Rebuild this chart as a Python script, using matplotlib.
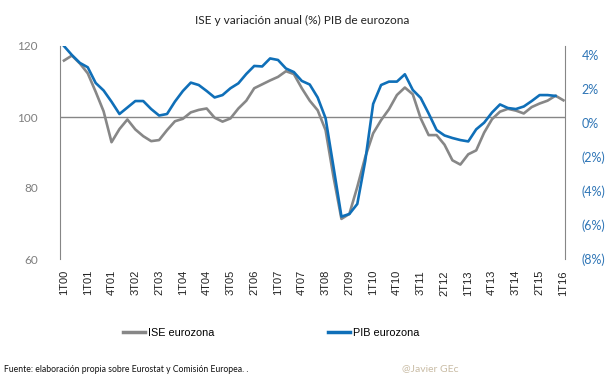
import numpy as np
import matplotlib.pyplot as plt
from matplotlib.lines import Line2D
from matplotlib.ticker import FuncFormatter

# ISE eurozona (left axis, index) - 64 quarters
ise = [115.9, 117.3, 115.1, 112.3, 107.1, 101.6, 92.9, 96.6, 99.3, 96.5,
       94.6, 93.2, 93.5, 96.3, 98.8, 99.5, 101.3, 102.0, 102.4, 99.8,
       98.7, 99.6, 102.4, 104.6, 108.1, 109.2, 110.3, 111.3, 112.9, 112.1,
       108.1, 104.6, 101.9, 96.3, 83.1, 71.3, 72.7, 80.3, 88.7, 95.4,
       99.1, 102.2, 106.2, 108.3, 106.4, 99.6, 94.9, 94.9, 92.2, 87.8,
       86.6, 89.5, 90.6, 95.6, 99.4, 101.5, 102.3, 101.8, 101.0, 102.8,
       103.8, 104.6, 106.0, 104.7]

# PIB eurozona, variacion anual % (right axis) - one quarter less
pib = [4.5, 3.97, 3.51, 3.25, 2.33, 1.89, 1.23, 0.51, 0.89, 1.27,
       1.27, 0.80, 0.42, 0.51, 1.24, 1.86, 2.35, 2.21, 1.86, 1.48,
       1.62, 2.02, 2.31, 2.86, 3.33, 3.30, 3.77, 3.68, 3.18, 2.97,
       2.45, 2.24, 1.48, 0.26, -2.60, -5.51, -5.36, -4.77, -2.25, 1.10,
       2.21, 2.41, 2.41, 2.84, 1.92, 1.45, 0.54, -0.43, -0.75, -0.90,
       -1.02, -1.10, -0.39, 0.00, 0.60, 1.07, 0.86, 0.80, 0.95, 1.27,
       1.62, 1.62, 1.57]

xlabels = ['1T00', '1T01', '4T01', '3T02', '2T03', '1T04', '4T04', '3T05',
           '2T06', '1T07', '4T07', '3T08', '2T09', '1T10', '4T10', '3T11',
           '2T12', '1T13', '4T13', '3T14', '2T15', '1T16']

gray = '#878787'
blue = '#0F6FB8'

fig = plt.figure(figsize=(6.05, 3.81), dpi=100)
ax = fig.add_axes([60/605, 1-259/381, 505/605, 213/381])
ax2 = ax.twinx()

x1 = np.arange(len(ise))
x2 = np.arange(len(pib))
ax.plot(x1, ise, color=gray, lw=1.9, solid_joinstyle='round', zorder=3)
ax2.plot(x2, pib, color=blue, lw=1.9, solid_joinstyle='round', zorder=4)

ax.set_xlim(-0.5, 63.2)
ax.set_ylim(60, 120)
ax.set_yticks([60, 80, 100, 120])
ax2.set_ylim(-8, 4.5)
ax2.set_yticks([-8, -6, -4, -2, 0, 2, 4])

def pct(v, pos):
    v = int(round(v))
    if v < 0:
        return '(%d%%)' % -v
    return '%d%%' % v

ax2.yaxis.set_major_formatter(FuncFormatter(pct))

ax.axhline(100, color='#868686', lw=1.0, zorder=2)

ax.set_xticks(np.arange(0, 64, 3))
ax.set_xticklabels(xlabels, rotation=90, family='Liberation Sans', fontsize=8,
                   color='#222222')

for a in (ax, ax2):
    for s in ('top', 'bottom'):
        a.spines[s].set_visible(False)
    a.spines['left'].set_color('#868686')
    a.spines['right'].set_color('#868686')
ax.spines['right'].set_visible(False)
ax2.spines['left'].set_visible(False)

ax.tick_params(axis='x', length=0, pad=8)
ax.tick_params(axis='y', length=0, pad=16, labelcolor='#7F7F7F', labelsize=8.5)
ax2.tick_params(axis='y', length=0, pad=12, labelcolor='#2E75B6', labelsize=9)
for lab in ax.get_yticklabels() + ax2.get_yticklabels():
    lab.set_family('Lato')

fig.text(0.5, 1-20/381, 'ISE y variación anual (%) PIB de eurozona',
         ha='center', va='center', family='Lato', fontsize=8.6, color='#222222')

handles = [Line2D([], [], color=gray, lw=2.5), Line2D([], [], color=blue, lw=2.5)]
fig.legend(handles, ['ISE eurozona', 'PIB eurozona'], ncol=2, loc='center',
           bbox_to_anchor=(271/605, 1-333/381), frameon=False,
           prop={'family': 'Liberation Sans', 'size': 7.8},
           handlelength=2.0, handletextpad=0.3, columnspacing=10.5)

fig.text(4/605, 1-370/381, 'Fuente: elaboración propia sobre Eurostat y Comisión Europea. .',
         ha='left', va='center', family='Lato', fontsize=6.2, color='#111111')
fig.text(402/605, 1-369/381, '@Javier GEc', ha='left', va='center',
         family='Lato', fontsize=7.5, color='#C9BCA5')

fig.savefig('out.png', dpi=100)
